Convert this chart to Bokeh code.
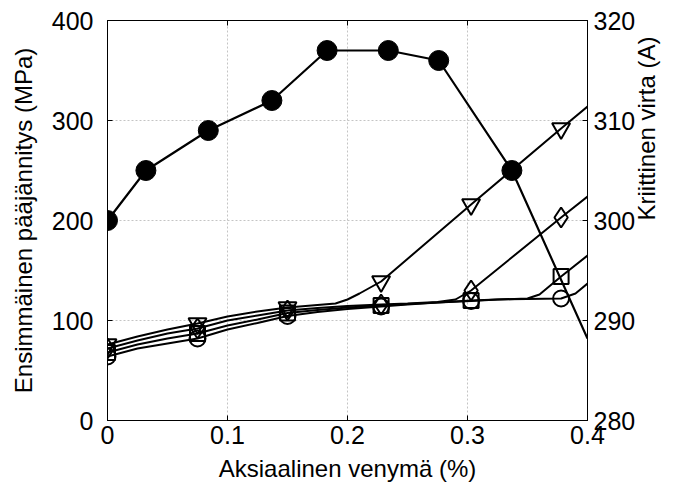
import math
from bokeh.plotting import figure
from bokeh.models import Range1d, LinearAxis, FixedTicker
from bokeh.embed import file_html
from bokeh.resources import INLINE

# ---- data ----
x_ticks = [0, 0.1, 0.2, 0.3, 0.4]
x_tick_labels = ["0", "0.1", "0.2", "0.3", "0.4"]
left_ticks = [0, 100, 200, 300, 400]
right_ticks = [280, 290, 300, 310, 320]

# first principal stress (MPa), left axis
stress_x = [0, 0.032, 0.084, 0.137, 0.183, 0.234, 0.276, 0.337, 0.4]
stress_y = [200, 250, 290, 320, 370, 370, 360, 250, 82]
stress_n_markers = 8

# critical current (A), right axis — curves
tri_x = [0, 0.025, 0.05, 0.075, 0.1, 0.125, 0.15, 0.175, 0.19, 0.2, 0.21, 0.228, 0.303, 0.378, 0.4]
tri_y = [287.6, 288.4, 289.1, 289.7, 290.4, 290.9, 291.3, 291.55, 291.7, 292.1, 292.7, 293.9, 301.6, 309.2, 311.4]

dia_x = [0, 0.025, 0.05, 0.075, 0.1, 0.125, 0.15, 0.175, 0.2, 0.228, 0.25, 0.275, 0.29, 0.303, 0.378, 0.4]
dia_y = [287.2, 288.0, 288.7, 289.2, 290.0, 290.5, 291.0, 291.25, 291.45, 291.6, 291.7, 291.85, 292.1, 293.0, 300.3, 302.4]

sq_x = [0, 0.025, 0.05, 0.075, 0.1, 0.125, 0.15, 0.175, 0.2, 0.228, 0.25, 0.275, 0.303, 0.325, 0.35, 0.36, 0.378, 0.4]
sq_y = [286.8, 287.6, 288.2, 288.7, 289.5, 290.1, 290.75, 291.05, 291.3, 291.5, 291.65, 291.8, 292.0, 292.1, 292.2, 292.6, 294.4, 296.5]

cir_x = [0, 0.025, 0.05, 0.075, 0.1, 0.125, 0.15, 0.175, 0.2, 0.228, 0.25, 0.275, 0.303, 0.325, 0.35, 0.378, 0.39, 0.4]
cir_y = [286.4, 287.2, 287.7, 288.2, 289.1, 289.75, 290.45, 290.85, 291.15, 291.4, 291.6, 291.8, 291.95, 292.1, 292.15, 292.2, 292.7, 293.7]

# marker positions
mk_x = [0, 0.075, 0.15, 0.228, 0.303, 0.378]
tri_mk = [287.6, 289.7, 291.3, 293.9, 301.6, 309.2]
dia_mk = [287.2, 289.2, 291.0, 291.6, 293.0, 300.3]
sq_mk = [286.8, 288.7, 290.75, 291.5, 292.0, 294.4]
cir_mk = [286.4, 288.2, 290.45, 291.4, 291.95, 292.2]

FONT = "Liberation Sans"
TICK_SIZE = "25px"
LABEL_SIZE = "24px"

p = figure(width=676, height=487, output_backend="svg", toolbar_location=None,
           x_range=Range1d(0, 0.4), y_range=Range1d(0, 400),
           min_border_left=107, min_border_right=89, min_border_top=20, min_border_bottom=67)
p.extra_y_ranges = {"right": Range1d(280, 320)}

p.outline_line_color = "black"
p.outline_line_width = 1
p.background_fill_color = "white"
p.border_fill_color = "white"

# grid
for g in (p.xgrid, p.ygrid):
    g.grid_line_color = "#c4c4c4"
    g.grid_line_dash = "2 2"
    g.grid_line_width = 1
p.xgrid.ticker = FixedTicker(ticks=x_ticks)
p.ygrid.ticker = FixedTicker(ticks=left_ticks)

def style_axis(ax):
    ax.axis_line_color = "black"
    ax.axis_line_width = 1
    ax.major_tick_in = 5
    ax.major_tick_out = 0
    ax.minor_tick_in = 0
    ax.minor_tick_out = 0
    ax.major_tick_line_color = "black"
    ax.major_label_text_font = FONT
    ax.major_label_text_font_size = TICK_SIZE
    ax.major_label_text_color = "black"
    ax.axis_label_text_font = FONT
    ax.axis_label_text_font_size = LABEL_SIZE
    ax.axis_label_text_font_style = "normal"
    ax.axis_label_text_color = "black"

xa = p.xaxis[0]
style_axis(xa)
xa.ticker = FixedTicker(ticks=x_ticks)
xa.major_label_overrides = {t: l for t, l in zip(x_ticks, x_tick_labels)}
xa.axis_label = "Aksiaalinen venymä (%)"
xa.major_label_standoff = 5
xa.axis_label_standoff = 8

ya = p.yaxis[0]
style_axis(ya)
ya.ticker = FixedTicker(ticks=left_ticks)
ya.axis_label = "Ensimmäinen pääjännitys (MPa)"
ya.major_label_standoff = 14
ya.axis_label_standoff = 12

ra = LinearAxis(y_range_name="right", ticker=FixedTicker(ticks=right_ticks),
                axis_label="Kriittinen virta (A)")
style_axis(ra)
ra.major_label_standoff = 6
ra.axis_label_standoff = 8
try:
    ra.axis_label_orientation = math.pi / 2
except Exception:
    pass
p.add_layout(ra, "right")

ta = LinearAxis(ticker=FixedTicker(ticks=x_ticks))
style_axis(ta)
ta.major_label_text_font_size = "0px"
ta.major_label_text_alpha = 0
p.add_layout(ta, "above")

# stress series
p.line(stress_x, stress_y, line_color="black", line_width=2.2)
p.scatter(stress_x[:stress_n_markers], stress_y[:stress_n_markers], marker="circle",
          size=20, fill_color="black", line_color="black")

# current series
for cx, cy, mx, my, mk, sz in [
    (tri_x, tri_y, mk_x, tri_mk, "inverted_triangle", 18),
    (dia_x, dia_y, mk_x, dia_mk, "diamond", 20),
    (sq_x, sq_y, mk_x, sq_mk, "square", 15),
    (cir_x, cir_y, mk_x, cir_mk, "circle", 16),
]:
    p.line(cx, cy, line_color="black", line_width=2, y_range_name="right")
    p.scatter(mx, my, marker=mk, size=sz, fill_alpha=0, line_color="black",
              line_width=2, y_range_name="right")

open("out.html", "w").write(file_html(p, INLINE))
